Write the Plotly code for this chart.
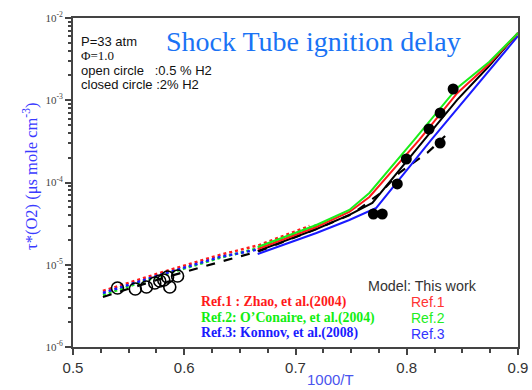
import plotly.graph_objects as go

# ---- measured data: 1000/T vs tau*(O2) ----
# open circles: 0.5 % H2
open_x = [0.540, 0.556, 0.566, 0.5735, 0.578, 0.5816, 0.585, 0.587, 0.594]
open_y = [5.21e-6, 5.07e-6, 5.36e-6, 6.0e-6, 6.34e-6, 6.53e-6, 7.1e-6, 5.36e-6, 7.3e-6]

# closed circles: 2 % H2
closed_x = [0.8417, 0.830, 0.820, 0.830, 0.7996, 0.7915, 0.770, 0.778]
closed_y = [1.37e-3, 7.0e-4, 4.47e-4, 3.02e-4, 1.93e-4, 9.6e-5, 4.14e-5, 4.14e-5]

# ---- model curves, 2 % H2 (solid) ----
hi_x = [0.666, 0.7188, 0.7484, 0.7664, 0.8067, 0.8453, 0.874, 0.9]
green_hi = [1.644e-5, 3.04e-5, 4.63e-5, 7.45e-5, 3.29e-4, 1.41e-3, 2.92e-3, 6.58e-3]
red_x = [0.666, 0.7188, 0.7484, 0.7664, 0.8112, 0.8453, 0.874, 0.9]
red_hi = [1.552e-5, 2.88e-5, 4.38e-5, 6.67e-5, 3.29e-4, 1.22e-3, 2.76e-3, 6.58e-3]
black_x = [0.666, 0.7188, 0.7484, 0.7691, 0.8157, 0.8453, 0.874, 0.9]
black_hi = [1.469e-5, 2.72e-5, 4.03e-5, 5.64e-5, 3.29e-4, 1.01e-3, 2.61e-3, 6.58e-3]
blue_x = [0.666, 0.7188, 0.7484, 0.7726, 0.822, 0.8561, 0.8785, 0.9]
blue_hi = [1.352e-5, 2.43e-5, 3.50e-5, 4.90e-5, 3.29e-4, 1.16e-3, 2.69e-3, 6.04e-3]

# ---- model curves, 0.5 % H2 (dotted / dashed) ----
red_lo_x = [0.5269, 0.578, 0.6318, 0.6677, 0.7126]
red_lo = [4.80e-6, 7.94e-6, 1.315e-5, 1.74e-5, 2.96e-5]
green_lo_x = [0.5269, 0.578, 0.6318, 0.6677, 0.7215]
green_lo = [4.29e-6, 7.30e-6, 1.21e-5, 1.60e-5, 3.13e-5]
blue_lo_x = [0.5269, 0.578, 0.6318, 0.6677]
blue_lo = [4.54e-6, 7.50e-6, 1.24e-5, 1.55e-5]
black_lo_x = [0.5269, 0.578, 0.6318, 0.6677, 0.7188, 0.7511, 0.7753, 0.7933, 0.8184, 0.8345]
black_lo = [4.06e-6, 6.71e-6, 1.08e-5, 1.47e-5, 2.72e-5, 4.14e-5, 7.24e-5, 1.31e-4, 2.29e-4, 3.67e-4]

y_tickvals = [1e-6, 1e-5, 1e-4, 1e-3, 1e-2]
y_ticktext = ["10<sup>-6</sup>", "10<sup>-5</sup>", "10<sup>-4</sup>", "10<sup>-3</sup>", "10<sup>-2</sup>"]

RED, GREEN, BLUE, BLACK = "#ff1a1a", "#1aee1a", "#1a1aff", "#000000"

fig = go.Figure()

# dotted model curves (0.5 % H2)
for xs, ys, c in [(red_lo_x, red_lo, RED), (green_lo_x, green_lo, GREEN),
                  (blue_lo_x, blue_lo, BLUE)]:
    fig.add_trace(go.Scatter(x=xs, y=ys, mode="lines",
                             line=dict(color=c, width=2.5, dash="dot")))
fig.add_trace(go.Scatter(x=black_lo_x, y=black_lo, mode="lines",
                         line=dict(color=BLACK, width=2.2, dash="dash")))

# solid model curves (2 % H2)
for xs, ys, c in [(blue_x, blue_hi, BLUE), (black_x, black_hi, BLACK),
                  (red_x, red_hi, RED), (hi_x, green_hi, GREEN)]:
    fig.add_trace(go.Scatter(x=xs, y=ys, mode="lines",
                             line=dict(color=c, width=2)))

# experimental points
fig.add_trace(go.Scatter(x=open_x, y=open_y, mode="markers",
                         marker=dict(symbol="circle-open", size=12,
                                     color=BLACK, line=dict(width=1.6))))
fig.add_trace(go.Scatter(x=closed_x, y=closed_y, mode="markers",
                         marker=dict(symbol="circle", size=11, color=BLACK)))

L, R, T, B = 73, 14, 18, 43
W, H = 532, 390
pw, ph = W - L - R, H - T - B


def px(x):
    return (x - L) / pw


def py(y):
    return (H - B - y) / ph


ann = []


def text(x, y, s, size, color, family="Arial", xanchor="left", **kw):
    ann.append(dict(x=px(x), y=py(y), xref="paper", yref="paper", text=s,
                    showarrow=False, xanchor=xanchor, yanchor="middle",
                    font=dict(size=size, color=color, family=family), **kw))


text(164, 41, "Shock Tube ignition delay", 28, "#1a73f5", family="Liberation Serif")
text(79, 41, "P=33 atm", 13, "#111")
text(79, 55.5, "Φ=1.0", 13, "#111", family="Liberation Serif")
text(79, 70, "open circle&nbsp;&nbsp;&nbsp;:0.5 % H2", 13, "#111")
text(79, 84.5, "closed circle :2% H2", 13, "#111")

text(366, 286, "Model: This work", 14.3, "#333")
text(428, 302, "Ref.1", 14, "#ff3333", xanchor="center")
text(428, 318, "Ref.2", 14, "#22ee22", xanchor="center")
text(428, 334, "Ref.3", 14, "#3333ff", xanchor="center")

text(199, 302, "<b>Ref.1 : Zhao, et al.(2004)</b>", 13.8, "#ff1a1a", family="Liberation Serif")
text(199, 318, "<b>Ref.2: O’Conaire, et al.(2004)</b>", 13.8, "#11ee11", family="Liberation Serif")
text(199, 333, "<b>Ref.3: Konnov, et al.(2008)</b>", 13.8, "#1a1aff", family="Liberation Serif")

text(330, 379, "1000/T", 15, "#4a55ee", xanchor="center")
text(30, 177, "τ*(O2) (μs mole cm<sup>-3</sup>)", 16.5, "#3a3aff",
     family="Liberation Serif", xanchor="center", textangle=-90)

fig.update_layout(
    width=W, height=H,
    margin=dict(l=L, r=R, t=T, b=B, autoexpand=False),
    paper_bgcolor="white", plot_bgcolor="white",
    showlegend=False,
    annotations=ann,
    xaxis=dict(range=[0.5, 0.9], dtick=0.1, tickformat=".1f", automargin=False,
               showgrid=False, zeroline=False,
               showline=True, linecolor="#444", linewidth=2, mirror=True,
               ticks="outside", ticklen=6, tickwidth=1.5, tickcolor="#444",
               minor=dict(dtick=0.025, ticks="outside", ticklen=4,
                          tickcolor="#444", showgrid=False),
               tickfont=dict(family="Arial", size=15, color="#333")),
    yaxis=dict(type="log", range=[-6, -2], tickvals=y_tickvals, ticktext=y_ticktext,
               automargin=False,
               showgrid=False, zeroline=False,
               showline=True, linecolor="#444", linewidth=2, mirror=True,
               ticks="outside", ticklen=6, tickwidth=1.5, tickcolor="#444",
               minor=dict(dtick="D1", ticks="outside", ticklen=3,
                          tickcolor="#444", showgrid=False),
               tickfont=dict(family="Liberation Serif", size=11, color="#444")),
)

fig.write_html("out.html")
